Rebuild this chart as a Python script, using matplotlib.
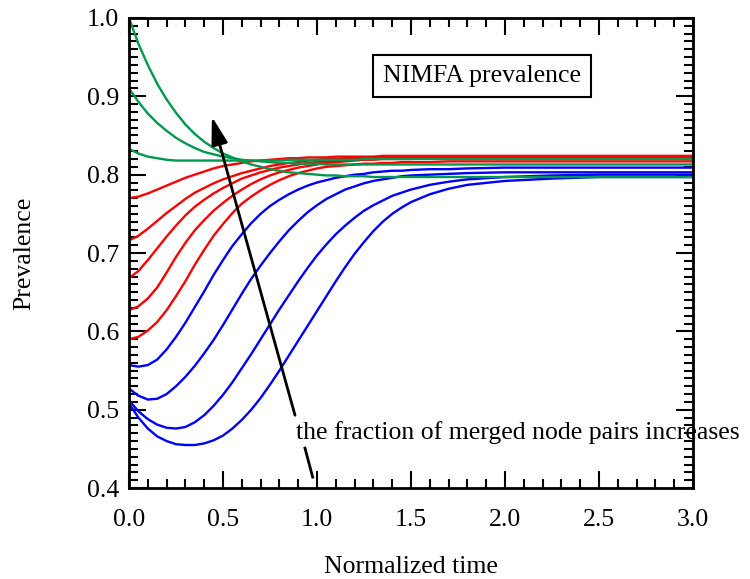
import matplotlib
matplotlib.use("Agg")
import matplotlib.pyplot as plt
from matplotlib.ticker import MultipleLocator

plt.rcParams["font.family"] = ["Liberation Serif", "DejaVu Serif"]

t = [0.00, 0.05, 0.10, 0.15, 0.20, 0.25, 0.30, 0.35, 0.40, 0.45, 0.50,
     0.55, 0.60, 0.65, 0.70, 0.75, 0.80, 0.85, 0.90, 0.95, 1.00,
     1.05, 1.10, 1.15, 1.20, 1.25, 1.30, 1.35, 1.40, 1.45, 1.50,
     1.6, 1.7, 1.8, 2.0, 2.25, 2.5, 2.75, 3.0]

green_1 = [1.000, .967, .940, .916, .896, .879, .864, .852, .842, .834, .827,
           .822, .817, .813, .810, .807, .805, .803, .802, .801, .800,
           .799, .799, .798, .798, .798, .797, .797, .797, .797, .797,
           .797, .797, .797, .797, .797, .797, .797, .797]
green_2 = [.910, .893, .878, .866, .856, .847, .840, .834, .829, .826, .823,
           .821, .819, .818, .817, .816, .815, .815, .814, .814, .814,
           .813, .813, .813, .813, .813, .813, .813, .813, .813, .813,
           .813, .813, .813, .813, .813, .813, .813, .813]
green_3 = [.833, .827, .823, .821, .819, .818, .818, .818, .818, .818, .818,
           .818, .818, .818, .818, .818, .818, .819, .819, .819, .819,
           .819, .819, .819, .819, .820, .820, .820, .820, .820, .820,
           .820, .820, .820, .820, .820, .820, .820, .820]

red_1 = [.770, .772, .776, .781, .786, .791, .796, .800, .804, .808, .811,
         .813, .815, .817, .818, .819, .820, .821, .821, .822, .822,
         .822, .823, .823, .823, .823, .823, .824, .824, .824, .824,
         .824, .824, .824, .824, .824, .824, .824, .824]
red_2 = [.716, .722, .731, .741, .751, .760, .769, .777, .783, .789, .794,
         .798, .802, .805, .808, .811, .813, .815, .816, .818, .819,
         .820, .820, .821, .821, .822, .822, .822, .822, .823, .823,
         .823, .823, .823, .823, .823, .823, .823, .823]
red_3 = [.668, .677, .691, .706, .721, .735, .748, .759, .768, .776, .783,
         .789, .795, .799, .803, .806, .809, .811, .813, .815, .816,
         .817, .818, .819, .820, .820, .821, .821, .821, .822, .822,
         .822, .822, .822, .822, .822, .822, .822, .822]
red_4 = [.627, .632, .642, .656, .675, .695, .713, .729, .742, .754, .764,
         .773, .781, .788, .794, .799, .803, .806, .809, .811, .813,
         .815, .816, .817, .818, .819, .819, .820, .820, .820, .820,
         .821, .821, .821, .821, .821, .821, .821, .821]
red_5 = [.590, .593, .601, .612, .627, .645, .664, .685, .704, .722, .737,
         .751, .763, .772, .780, .787, .793, .798, .802, .805, .808,
         .810, .811, .812, .813, .814, .814, .815, .815, .816, .816,
         .816, .817, .817, .817, .817, .817, .817, .817]

blue_1 = [.557, .555, .557, .564, .577, .593, .611, .631, .651, .672, .691,
          .709, .724, .738, .750, .760, .768, .775, .781, .786, .790,
          .793, .796, .798, .800, .801, .803, .804, .805, .805, .806,
          .807, .807, .808, .809, .809, .809, .809, .809]
blue_2 = [.527, .518, .513, .514, .520, .530, .542, .556, .572, .589, .608,
          .628, .648, .667, .684, .700, .715, .729, .741, .752, .761,
          .769, .775, .781, .785, .789, .792, .794, .796, .798, .799,
          .800, .801, .802, .803, .803, .803, .803, .803]
blue_3 = [.512, .498, .488, .481, .477, .476, .478, .484, .493, .505, .519,
          .535, .553, .571, .590, .609, .628, .646, .664, .681, .697,
          .711, .724, .735, .745, .754, .761, .767, .773, .777, .781,
          .787, .791, .794, .797, .799, .800, .800, .800]
blue_4 = [.508, .490, .476, .466, .460, .456, .455, .455, .457, .461, .467,
          .476, .487, .500, .515, .532, .550, .569, .588, .607, .626,
          .645, .664, .682, .699, .714, .728, .740, .750, .758, .765,
          .775, .782, .787, .792, .795, .797, .797, .797]

GREEN = "#00994D"
RED = "#FF0000"
BLUE = "#0000FF"
FS = 18.5

fig = plt.figure(figsize=(7.5, 5.79), dpi=100)
ax = fig.add_axes([0.172, 0.157, 0.752, 0.812])

lw = 1.7
for y in (blue_4, blue_3, blue_2, blue_1):
    ax.plot(t, y, color=BLUE, lw=lw, solid_joinstyle="round")
for y in (red_5, red_4, red_3, red_2, red_1):
    ax.plot(t, y, color=RED, lw=lw, solid_joinstyle="round")
for y in (green_3, green_2, green_1):
    ax.plot(t, y, color=GREEN, lw=lw, solid_joinstyle="round")

ax.set_xlim(0, 3.0)
ax.set_ylim(0.4, 1.0)
ax.xaxis.set_major_locator(MultipleLocator(0.5))
ax.xaxis.set_minor_locator(MultipleLocator(0.1))
ax.yaxis.set_major_locator(MultipleLocator(0.1))
ax.yaxis.set_minor_locator(MultipleLocator(0.01))
ax.xaxis.set_major_formatter(plt.FormatStrFormatter("%.1f"))
ax.yaxis.set_major_formatter(plt.FormatStrFormatter("%.1f"))

ax.tick_params(which="both", direction="in", top=True, right=True,
               width=1.5, labelsize=FS)
ax.tick_params(which="major", length=12.5)
ax.tick_params(which="minor", length=6.5)
ax.tick_params(axis="x", pad=15)
ax.tick_params(axis="y", pad=7)
for s in ax.spines.values():
    s.set_linewidth(2)

ax.set_xlabel("Normalized time", fontsize=FS, labelpad=18)
ax.set_ylabel("Prevalence", fontsize=FS, labelpad=37)

ax.text(1.878, 0.926, "NIMFA prevalence", fontsize=FS, ha="center", va="center",
        bbox=dict(boxstyle="square,pad=0.4", fc="white", ec="black", lw=1.5))

ax.annotate("", xy=(0.441, 0.874), xytext=(0.883, 0.493),
            arrowprops=dict(arrowstyle="-|>,head_length=1.7,head_width=0.5",
                            color="black", lw=2, shrinkA=0, shrinkB=0))
ax.plot([0.936, 0.977], [0.451, 0.414], color="black", lw=2, clip_on=False)
ax.text(0.888, 0.471, "the fraction of merged node pairs increases", fontsize=FS,
        ha="left", va="center", clip_on=False)

fig.savefig("out.png", dpi=100)
